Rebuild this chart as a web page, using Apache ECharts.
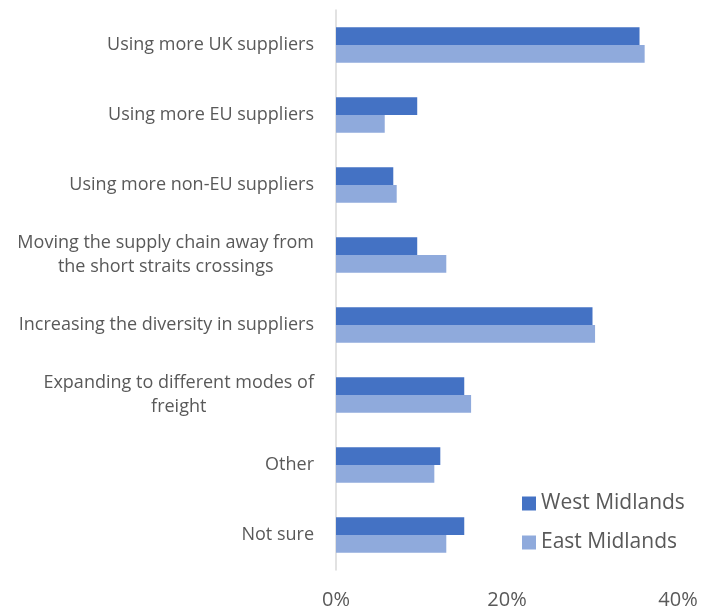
<!DOCTYPE html>
<html>
<head>
<meta charset="utf-8">
<script src="https://cdn.jsdelivr.net/npm/echarts@6/dist/echarts.min.js"></script>
<style>
  html, body { margin: 0; padding: 0; background: #fff; }
  #main { width: 708px; height: 612px; }
</style>
</head>
<body>
<div id="main"></div>
<script>
  // categories, top to bottom
  const categories = [
    'Using more UK suppliers',
    'Using more EU suppliers',
    'Using more non-EU suppliers',
    'Moving the supply chain away from\nthe short straits crossings',
    'Increasing the diversity in suppliers',
    'Expanding to different modes of\nfreight',
    'Other',
    'Not sure'
  ]
  const westMidlands = [35.5, 9.5, 6.7, 9.5, 30.0, 15.0, 12.2, 15.0]
  const eastMidlands = [36.1, 5.7, 7.1, 12.9, 30.3, 15.8, 11.5, 12.9]
  const xTicks = [0, 20, 40]

  const font = '"Open Sans", "Liberation Sans", sans-serif'
  const textColor = '#595959'

  const chart = echarts.init(document.getElementById('main'))
  chart.setOption({
    animation: false,
    textStyle: { fontFamily: font },
    grid: { left: 336, right: 30, top: 10, bottom: 42 },
    legend: {
      orient: 'vertical',
      left: 522,
      top: 493,
      padding: 0,
      icon: 'rect',
      itemWidth: 14,
      itemHeight: 14,
      itemGap: 18,
      textStyle: { fontFamily: font, fontSize: 21, color: textColor },
      data: ['West Midlands', 'East Midlands']
    },
    xAxis: {
      type: 'value',
      min: xTicks[0],
      max: xTicks[xTicks.length - 1],
      interval: 20,
      axisLine: { show: false },
      axisTick: { show: false },
      splitLine: { show: false },
      axisLabel: {
        margin: 20,
        fontSize: 20,
        color: textColor,
        fontFamily: font,
        formatter: '{value}%'
      }
    },
    yAxis: {
      type: 'category',
      inverse: true,
      data: categories,
      axisLine: { show: true, lineStyle: { color: '#d9d9d9', width: 1.5 } },
      axisTick: { show: false },
      axisLabel: {
        margin: 22,
        color: textColor,
        fontSize: 18,
        fontFamily: font,
        lineHeight: 24,
        formatter: function (v) {
          return v.split('\n').map(l => '{c|' + l + '}').join('\n')
        },
        rich: {
          c: { align: 'center', fontSize: 18, lineHeight: 24, color: textColor, fontFamily: font }
        }
      }
    },
    series: [{
      name: 'West Midlands',
      type: 'bar',
      data: westMidlands,
      barGap: '0%',
      barCategoryGap: '49%',
      itemStyle: { color: '#4472c4' }
    }, {
      name: 'East Midlands',
      type: 'bar',
      data: eastMidlands,
      barGap: '0%',
      barCategoryGap: '49%',
      itemStyle: { color: '#8faadc' }
    }]
  })
</script>
</body>
</html>
